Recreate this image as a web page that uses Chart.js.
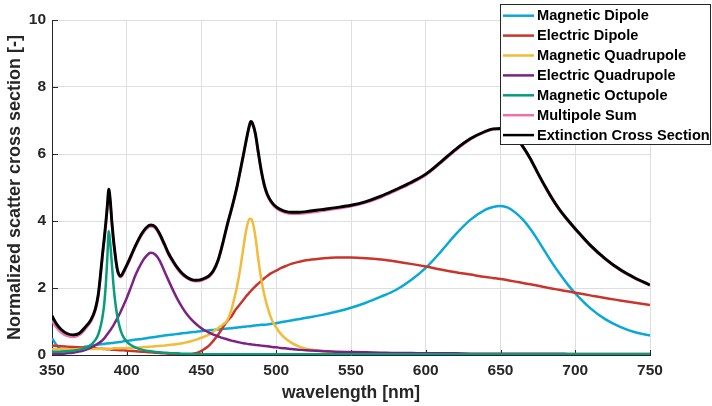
<!DOCTYPE html>
<html><head><meta charset="utf-8">
<script src="https://cdn.jsdelivr.net/npm/chart.js@4.4.0/dist/chart.umd.min.js"></script>
<style>html,body{margin:0;padding:0;background:#fff;}#wrap{width:712px;height:406px;}</style>
</head><body><div id="wrap"><canvas id="c" width="712" height="406"></canvas></div>
<script>
const wavelength = [350,353,356,360,364,368,372,376,379,381,
 383,384,385,386,387,388,389,390,391,392,
 393,394,396,398,400,403,406,410,413,416,
 419,422,425,428,431,434,437,440,443,446,
 449,452,455,458,461,464,467,470,472,474,
 476,478,480,482,483,484,486,488,490,492,
 494,497,500,503,506,510,515,520,530,540,
 550,560,570,580,590,600,610,620,630,640,
 645,650,655,660,665,670,675,680,685,690,
 695,700,710,720,730,740,750];

const magneticDipole = [0.50,0.30,0.17,0.12,0.15,0.20,0.25,0.28,0.30,0.31,
 0.32,0.33,0.33,0.34,0.34,0.35,0.35,0.36,0.36,0.37,
 0.37,0.38,0.39,0.41,0.42,0.44,0.46,0.48,0.50,0.52,
 0.54,0.56,0.58,0.60,0.61,0.63,0.65,0.66,0.68,0.69,
 0.71,0.72,0.74,0.75,0.76,0.78,0.79,0.80,0.81,0.82,
 0.83,0.84,0.85,0.86,0.86,0.87,0.88,0.89,0.90,0.90,
 0.91,0.93,0.95,0.98,1.00,1.03,1.07,1.11,1.19,1.29,
 1.41,1.56,1.74,1.94,2.23,2.60,3.08,3.60,4.04,4.34,
 4.42,4.45,4.40,4.25,4.04,3.76,3.43,3.07,2.72,2.40,
 2.10,1.84,1.40,1.07,0.84,0.68,0.58];

const electricDipole = [0.28,0.27,0.26,0.25,0.24,0.23,0.22,0.21,0.20,0.19,
 0.19,0.18,0.18,0.18,0.17,0.17,0.17,0.16,0.16,0.16,
 0.15,0.15,0.14,0.14,0.13,0.12,0.11,0.10,0.09,0.08,
 0.07,0.06,0.05,0.04,0.03,0.02,0.02,0.02,0.03,0.05,
 0.10,0.18,0.28,0.43,0.60,0.80,1.00,1.15,1.30,1.42,
 1.53,1.64,1.76,1.86,1.91,1.96,2.05,2.13,2.21,2.29,
 2.36,2.45,2.52,2.59,2.65,2.72,2.78,2.83,2.88,2.91,
 2.91,2.89,2.85,2.79,2.72,2.64,2.55,2.47,2.40,2.33,
 2.30,2.27,2.23,2.19,2.15,2.11,2.07,2.02,1.98,1.94,
 1.90,1.86,1.78,1.70,1.63,1.56,1.49];

const magneticQuadrupole = [0.17,0.17,0.17,0.17,0.17,0.18,0.18,0.18,0.18,0.18,
 0.19,0.19,0.19,0.19,0.19,0.19,0.19,0.19,0.20,0.20,
 0.20,0.20,0.20,0.20,0.21,0.21,0.22,0.23,0.24,0.25,
 0.26,0.27,0.28,0.30,0.31,0.33,0.35,0.38,0.41,0.45,
 0.50,0.55,0.61,0.70,0.80,0.90,1.02,1.35,1.70,2.10,
 2.60,3.20,3.75,4.06,4.07,4.00,3.55,2.85,2.25,1.80,
 1.45,1.05,0.82,0.63,0.50,0.37,0.26,0.19,0.12,0.08,
 0.06,0.05,0.04,0.04,0.03,0.03,0.03,0.03,0.03,0.03,
 0.03,0.03,0.03,0.03,0.03,0.03,0.03,0.03,0.03,0.03,
 0.03,0.03,0.03,0.03,0.03,0.03,0.03];

const electricQuadrupole = [0.02,0.03,0.03,0.05,0.07,0.10,0.15,0.22,0.29,0.35,
 0.41,0.45,0.50,0.56,0.62,0.68,0.74,0.81,0.88,0.96,
 1.04,1.12,1.30,1.50,1.70,2.05,2.40,2.76,2.95,3.05,
 3.00,2.82,2.52,2.22,1.93,1.66,1.43,1.23,1.07,0.94,
 0.83,0.74,0.67,0.61,0.56,0.51,0.47,0.43,0.41,0.39,
 0.37,0.35,0.34,0.32,0.32,0.31,0.30,0.29,0.28,0.27,
 0.26,0.24,0.23,0.21,0.20,0.18,0.16,0.14,0.12,0.10,
 0.09,0.08,0.07,0.06,0.06,0.05,0.05,0.05,0.04,0.04,
 0.04,0.04,0.04,0.04,0.04,0.04,0.04,0.04,0.04,0.04,
 0.03,0.03,0.03,0.03,0.03,0.03,0.03];

const magneticOctupole = [0.10,0.10,0.10,0.11,0.13,0.16,0.20,0.30,0.45,0.62,
 0.95,1.20,1.55,2.10,2.90,3.70,3.30,2.75,2.15,1.70,
 1.35,1.08,0.72,0.52,0.40,0.29,0.22,0.16,0.13,0.11,
 0.09,0.08,0.07,0.06,0.05,0.05,0.04,0.04,0.03,0.03,
 0.02,0.02,0.02,0.02,0.02,0.02,0.02,0.02,0.02,0.02,
 0.02,0.02,0.02,0.02,0.02,0.02,0.02,0.02,0.02,0.02,
 0.02,0.02,0.02,0.02,0.02,0.02,0.02,0.02,0.02,0.02,
 0.02,0.02,0.02,0.02,0.02,0.02,0.02,0.02,0.02,0.02,
 0.02,0.02,0.02,0.02,0.02,0.02,0.02,0.02,0.02,0.02,
 0.02,0.02,0.02,0.02,0.02,0.02,0.02];

const multipoleSum = [1.02,0.82,0.68,0.57,0.54,0.59,0.76,1.00,1.33,1.77,
 2.60,3.05,3.45,3.90,4.40,4.88,4.55,3.95,3.45,3.05,
 2.70,2.46,2.32,2.46,2.64,2.94,3.24,3.58,3.76,3.84,
 3.79,3.58,3.29,2.99,2.76,2.56,2.40,2.30,2.23,2.20,
 2.21,2.26,2.33,2.49,2.79,3.27,3.82,4.32,4.67,5.05,
 5.49,5.94,6.40,6.82,6.94,6.90,6.59,6.02,5.47,5.04,
 4.76,4.52,4.38,4.30,4.25,4.22,4.22,4.24,4.30,4.37,
 4.44,4.55,4.71,4.91,5.12,5.37,5.73,6.11,6.44,6.66,
 6.73,6.74,6.68,6.50,6.20,5.84,5.41,5.00,4.62,4.29,
 4.01,3.75,3.26,2.86,2.53,2.28,2.07];

const extinction = [1.17,0.93,0.77,0.64,0.60,0.64,0.82,1.05,1.38,1.82,
 2.65,3.10,3.50,3.95,4.45,4.95,4.60,4.00,3.50,3.10,
 2.75,2.50,2.36,2.50,2.68,2.98,3.28,3.62,3.80,3.88,
 3.83,3.62,3.33,3.03,2.80,2.60,2.44,2.33,2.26,2.23,
 2.24,2.29,2.36,2.52,2.82,3.30,3.85,4.35,4.70,5.08,
 5.52,5.97,6.43,6.85,6.97,6.93,6.62,6.05,5.50,5.08,
 4.80,4.56,4.42,4.34,4.29,4.26,4.26,4.28,4.34,4.40,
 4.47,4.58,4.74,4.94,5.15,5.40,5.76,6.14,6.46,6.68,
 6.75,6.76,6.70,6.52,6.22,5.86,5.43,5.02,4.64,4.31,
 4.03,3.77,3.28,2.88,2.55,2.30,2.09];

const seriesLabels = ['Magnetic Dipole','Electric Dipole','Magnetic Quadrupole','Electric Quadrupole','Magnetic Octupole','Multipole Sum','Extinction Cross Section'];
const seriesValues = [magneticDipole, electricDipole, magneticQuadrupole, electricQuadrupole, magneticOctupole, multipoleSum, extinction];
const seriesColors = ['#0AA8D8','#C8352B','#F2BB3A','#7B2282','#079C7A','#EF6FA6','#000000'];
const seriesWidths = [2.5,2.5,2.5,2.5,2.5,2.6,2.9];
const xAxisTitle = 'wavelength [nm]';
const yAxisTitle = 'Normalized scatter cross section [-]';

const FONT = "'Liberation Sans', Arial, Helvetica, sans-serif";
const AX = '#262626';

const datasets = seriesLabels.map((lab, i) => ({
  label: lab,
  data: wavelength.map((w, k) => ({x: w, y: seriesValues[i][k]})),
  borderColor: seriesColors[i],
  backgroundColor: seriesColors[i],
  borderWidth: seriesWidths[i],
  pointRadius: 0,
  fill: false,
  cubicInterpolationMode: 'monotone',
  order: seriesLabels.length - i
}));

const inwardTicks = {
  id: 'inwardTicks',
  beforeDatasetsDraw(chart) {
    const {ctx, chartArea: a, scales: {x, y}} = chart;
    ctx.save();
    ctx.strokeStyle = AX; ctx.lineWidth = 1;
    ctx.beginPath();
    x.ticks.forEach(t => { const px = Math.round(x.getPixelForValue(t.value)) + 0.5; ctx.moveTo(px, a.bottom); ctx.lineTo(px, a.bottom - 5); });
    y.ticks.forEach(t => { const py = Math.round(y.getPixelForValue(t.value)) + 0.5; ctx.moveTo(a.left, py); ctx.lineTo(a.left + 6, py); });
    ctx.stroke();
    ctx.restore();
  }
};

const boxLegend = {
  id: 'boxLegend',
  afterDraw(chart) {
    const ctx = chart.ctx;
    const L = 500, T = 4, W = 211, H = 140;
    ctx.save();
    ctx.fillStyle = '#ffffff';
    ctx.fillRect(L, T, W, H);
    ctx.strokeStyle = AX; ctx.lineWidth = 1;
    ctx.strokeRect(L + 0.5, T + 0.5, W - 1, H);
    ctx.font = 'bold 14.6px ' + FONT;
    ctx.textBaseline = 'middle';
    ctx.textAlign = 'left';
    chart.data.datasets.forEach((ds, i) => {
      const yy = 15.7 + i * 19.9;
      ctx.strokeStyle = ds.borderColor; ctx.lineWidth = 2.5;
      ctx.beginPath(); ctx.moveTo(503, yy); ctx.lineTo(534, yy); ctx.stroke();
      ctx.fillStyle = '#000';
      ctx.fillText(ds.label, 537, yy + 0.5);
    });
    ctx.restore();
  }
};

new Chart(document.getElementById('c'), {
  type: 'line',
  data: {datasets},
  options: {
    responsive: false,
    animation: false,
    devicePixelRatio: 1,
    layout: {padding: {top: 20, right: 62, left: 0, bottom: 0}},
    plugins: {legend: {display: false}, tooltip: {enabled: false}},
    scales: {
      x: {
        type: 'linear', min: 350, max: 750,
        ticks: {stepSize: 50, color: AX, font: {family: FONT, size: 15.5, weight: 'bold'}, padding: 6, maxRotation: 0},
        grid: {color: '#dedede', drawTicks: false, lineWidth: 1},
        border: {color: AX, width: 1},
        title: {display: true, text: xAxisTitle, color: AX, font: {family: FONT, size: 17.5, weight: 'bold'}, padding: {top: 2, bottom: 2}},
        afterFit(s) { s.height = 51; }
      },
      y: {
        type: 'linear', min: 0, max: 10,
        ticks: {stepSize: 2, color: AX, font: {family: FONT, size: 15.5, weight: 'bold'}, padding: 6},
        grid: {color: '#dedede', drawTicks: false, lineWidth: 1},
        border: {color: AX, width: 1},
        title: {display: true, text: yAxisTitle, color: AX, font: {family: FONT, size: 18, weight: 'bold'}, padding: {top: 4, bottom: 2}},
        afterFit(s) { s.width = 52; }
      }
    }
  },
  plugins: [inwardTicks, boxLegend]
});
</script>
</body></html>
